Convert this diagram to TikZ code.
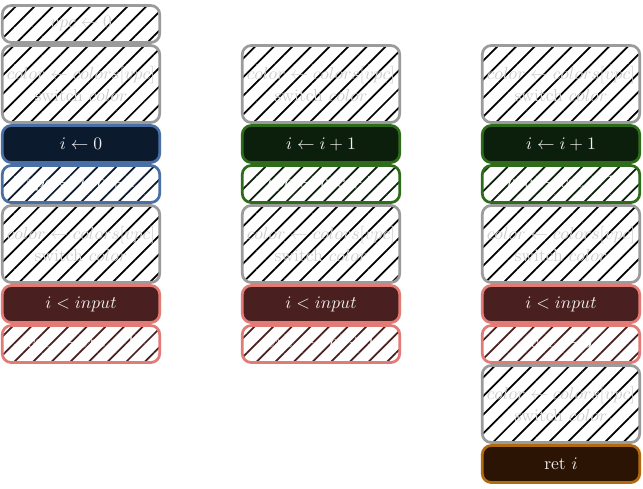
\documentclass[tikz,border=0pt]{standalone}
\usetikzlibrary{patterns.meta}
\definecolor{boxgray}{RGB}{155,155,155}
\definecolor{ghost}{RGB}{205,205,205}
\definecolor{blueedge}{RGB}{74,111,165}
\definecolor{bluefill}{RGB}{12,26,46}
\definecolor{greenedge}{RGB}{46,107,26}
\definecolor{greenfill}{RGB}{12,31,12}
\definecolor{rededge}{RGB}{226,122,117}
\definecolor{redfill}{RGB}{74,31,31}
\definecolor{orangeedge}{RGB}{176,106,16}
\definecolor{orangefill}{RGB}{43,20,4}
\definecolor{lighttext}{RGB}{240,240,240}
\begin{document}
\begin{tikzpicture}[x=0.02cm,y=-0.02cm,
  box/.style={rounded corners=0.18cm, line width=0.055cm, minimum width=3.15cm,
    minimum height=0.74cm, inner sep=0pt, align=center},
  tallbox/.style={box, minimum height=1.54cm},
  hatched/.style={pattern={Lines[angle=45,distance=7.5pt,line width=1pt]}, pattern color=#1},
  graybox/.style={box, draw=boxgray, text=ghost, hatched=black},
  graytall/.style={tallbox, draw=boxgray, text=ghost, hatched=black},
  solidbox/.style 2 args={box, draw=#1, fill=#2, text=lighttext},
  hatchbox/.style 2 args={box, draw=#1, hatched=#2, text=white}]
\useasboundingbox (0,0) rectangle (643,488);
% column 1
\node[graybox] (a1) at (81,24) {$vpc \leftarrow 0$};
\node[graytall] (a2) at (81,84) {$color \leftarrow colors[vpc]$\\switch $color$};
\node[solidbox={blueedge}{bluefill}] (a3) at (81,144) {$i \leftarrow 0$};
\node[hatchbox={blueedge}{bluefill}] (a4) at (81,184) {$vpc \leftarrow vpc + 1$};
\node[graytall] (a5) at (81,244) {$color \leftarrow colors[vpc]$\\switch $color$};
\node[solidbox={rededge}{redfill}] (a6) at (81,304) {$i < input$};
\node[hatchbox={rededge}{redfill}] (a7) at (81,344) {$vpc \leftarrow vpc + 1$};
% column 2
\node[graytall] (b2) at (321,84) {$color \leftarrow colors[vpc]$\\switch $color$};
\node[solidbox={greenedge}{greenfill}] (b3) at (321,144) {$i \leftarrow i + 1$};
\node[hatchbox={greenedge}{greenfill}] (b4) at (321,184) {$vpc \leftarrow vpc + 1$};
\node[graytall] (b5) at (321,244) {$color \leftarrow colors[vpc]$\\switch $color$};
\node[solidbox={rededge}{redfill}] (b6) at (321,304) {$i < input$};
\node[hatchbox={rededge}{redfill}] (b7) at (321,344) {$vpc \leftarrow vpc + 1$};
% column 3
\node[graytall] (c2) at (561,84) {$color \leftarrow colors[vpc]$\\switch $color$};
\node[solidbox={greenedge}{greenfill}] (c3) at (561,144) {$i \leftarrow i + 1$};
\node[hatchbox={greenedge}{greenfill}] (c4) at (561,184) {$vpc \leftarrow vpc + 1$};
\node[graytall] (c5) at (561,244) {$color \leftarrow colors[vpc]$\\switch $color$};
\node[solidbox={rededge}{redfill}] (c6) at (561,304) {$i < input$};
\node[hatchbox={rededge}{redfill}] (c7) at (561,344) {$vpc \leftarrow 3$};
\node[graytall] (c8) at (561,404) {$color \leftarrow colors[vpc]$\\switch $color$};
\node[solidbox={orangeedge}{orangefill}] (c9) at (561,464) {ret $i$};
\end{tikzpicture}
\end{document}
